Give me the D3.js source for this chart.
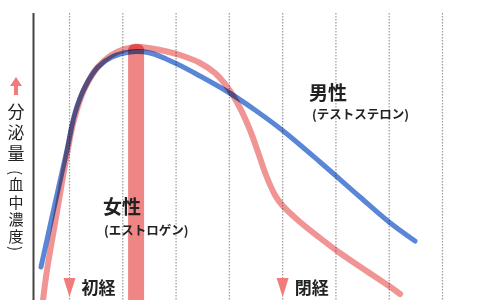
<!DOCTYPE html>
<html><head><meta charset="utf-8">
<script src="https://cdn.jsdelivr.net/npm/d3@7"></script>
<style>
html,body{margin:0;padding:0;background:#fff;}
svg{display:block;}
text{font-family:"Noto Sans CJK JP","Noto Sans",sans-serif;}
</style></head><body>
<script>
// grid ages (vertical dotted lines)
const gridAges = [10, 20, 30, 40, 50, 60, 70, 80];
// male (testosterone) curve
const maleAges   = [4.65, 7.09, 9.53, 11.03, 12.91, 15.35, 17.98, 21.35, 25.11, 29.8, 34.49, 39.75, 44.81, 49.88, 57.01, 64.52, 69.96, 74.84];
const maleLevels = [13.2, 36.8, 60, 74.8, 85.2, 93.2, 97.2, 99.2, 98.8, 94.8, 89.6, 83.2, 76, 68, 55.2, 41.2, 31.2, 23.6];
// female (estrogen) curve
const femaleAges   = [5.03, 5.78, 7.65, 9.34, 10.84, 12.72, 15.16, 17.6, 20.41, 23.23, 26.98, 30.74, 34.49, 37.3, 39.75, 42.0, 43.87, 45.37, 46.87, 48.56, 49.88, 53.26, 57.01, 60.76, 65.45, 69.96, 72.03];
const femaleLevels = [0, 12, 35.2, 56, 72, 84, 92.8, 97.6, 100.4, 101.2, 100, 98, 94.8, 90.8, 84.8, 76.8, 68, 59.2, 50, 42, 38, 31.2, 24.8, 18.8, 12, 5.6, 2.4];
// pregnancy-period band
const bandAges = [21, 24];
const bandTop = 102.5;
// event markers
const eventAges = [10, 50];
const eventLabels = ["初経", "閉経"];
// y-axis label
const yLabelMain = "分泌量";
const yLabelSub = "(血中濃度)";
// series labels
const seriesTitles = ["女性", "男性"];
const seriesSubs = ["(エストロゲン)", "(テストステロン)"];

const W = 480, H = 300;
const svg = d3.select("body").append("svg").attr("width", W).attr("height", H);

const x = d3.scaleLinear().domain([10, 80]).range([69.5, 442.5]);
const y = d3.scaleLinear().domain([0, 100]).range([300, 50]);

// grid lines
svg.append("g").selectAll("line").data(gridAges).join("line")
  .attr("x1", d => x(d)).attr("x2", d => x(d))
  .attr("y1", 13).attr("y2", 300)
  .attr("stroke", "#9a9a9a").attr("stroke-width", 1.2)
  .attr("stroke-dasharray", "1.6,1.4");

// left axis line
svg.append("line").attr("x1", 33.5).attr("x2", 33.5).attr("y1", 13).attr("y2", 300)
  .attr("stroke", "#444").attr("stroke-width", 2);

// band
svg.append("rect")
  .attr("x", x(bandAges[0])).attr("width", x(bandAges[1]) - x(bandAges[0]))
  .attr("y", y(bandTop)).attr("height", 320 - y(bandTop))
  .attr("rx", 7).attr("ry", 6)
  .attr("fill", "#f08585");

const line = d3.line().x(d => x(d[0])).y(d => y(d[1])).curve(d3.curveCatmullRom.alpha(0.5));

svg.append("path")
  .datum(d3.zip(femaleAges, femaleLevels))
  .attr("d", line).attr("fill", "none")
  .attr("stroke", "#f09494").attr("stroke-width", 6).attr("stroke-linecap", "round")
  .style("mix-blend-mode", "multiply");

svg.append("path")
  .datum(d3.zip(maleAges, maleLevels))
  .attr("d", line).attr("fill", "none")
  .attr("stroke", "#5a86d8").attr("stroke-width", 5).attr("stroke-linecap", "round")
  .style("mix-blend-mode", "multiply");

// series labels
const labelPos = [[103, 214, 104, 235], [309, 100, 312, 119]];
seriesTitles.forEach((t, i) => {
  svg.append("text").attr("x", labelPos[i][0]).attr("y", labelPos[i][1])
    .attr("font-size", 19).attr("font-weight", "bold").attr("fill", "#222").text(t);
  svg.append("text").attr("x", labelPos[i][2]).attr("y", labelPos[i][3])
    .attr("font-size", 12.5).attr("font-weight", "bold").attr("fill", "#222")
    .text(seriesSubs[i]);
});

// event markers
eventAges.forEach((a, i) => {
  const cx = x(a);
  svg.append("path")
    .attr("d", `M${cx - 6},278 L${cx + 6},278 L${cx},297 Z`)
    .attr("fill", "#f07c7c");
  svg.append("text").attr("x", cx + 12).attr("y", 294)
    .attr("font-size", 17).attr("font-weight", "bold").attr("fill", "#222").text(eventLabels[i]);
});

// y label arrow
svg.append("path").attr("d", "M16,77 L22,86 L18,86 L18,95 L14,95 L14,86 L10,86 Z").attr("fill", "#f07c7c");

svg.append("text")
  .attr("x", 16).attr("y", 103)
  .style("writing-mode", "vertical-rl")
  .attr("font-size", 17).attr("letter-spacing", 4).attr("fill", "#222")
  .text(yLabelMain);
svg.append("text")
  .attr("x", 16).attr("y", 170)
  .style("writing-mode", "vertical-rl")
  .attr("font-size", 15).attr("letter-spacing", 2.2).attr("fill", "#222")
  .text(yLabelSub);
</script>
</body></html>
